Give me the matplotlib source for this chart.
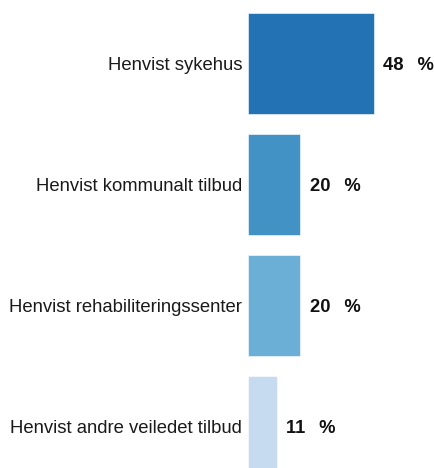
import matplotlib
matplotlib.use("Agg")
import matplotlib.pyplot as plt

categories = [
    "Henvist sykehus",
    "Henvist kommunalt tilbud",
    "Henvist rehabiliteringssenter",
    "Henvist andre veiledet tilbud",
]
values = [48, 20, 20, 11]
colors = ["#2372B4", "#4292C6", "#6BAED6", "#C6DBEF"]

plt.rcParams["font.family"] = ["Liberation Sans", "DejaVu Sans"]

fig = plt.figure(figsize=(4.35, 4.68), dpi=100)
ax = fig.add_axes([248 / 435, 0, 187 / 435, 1])

pos = list(range(len(categories)))
ax.barh(pos, values, height=0.835, color=colors, edgecolor="#ffffff",
        linewidth=0.4)

ax.set_xlim(0, 71.24)
ax.set_ylim(3.343, -0.525)
ax.set_xticks([])
ax.set_yticks([])
for s in ax.spines.values():
    s.set_visible(False)

for p, name, v in zip(pos, categories, values):
    ax.annotate(name, xy=(0, p), xytext=(-4.3, -1.2),
                textcoords="offset points", va="center", ha="right",
                fontsize=13.3, color="#1a1a1a", annotation_clip=False)
    ax.annotate(f"{v}  \u2009%", xy=(v, p), xytext=(6.5, -1.2),
                textcoords="offset points", va="center", ha="left",
                fontsize=13.2, fontweight="bold", color="#111111")

fig.savefig("out.png", dpi=100)
